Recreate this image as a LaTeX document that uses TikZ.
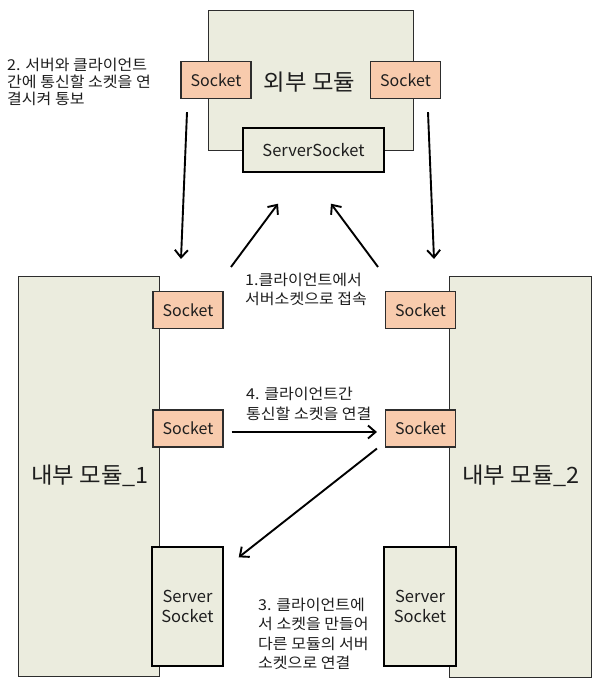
\documentclass[tikz,border=0pt]{standalone}
\usepackage{fontspec}
\setmainfont{Noto Sans CJK KR}
\newfontfamily\notefont[FakeStretch=1.07]{Noto Sans CJK KR}
\newfontfamily\titlefont[FakeStretch=1.04]{Noto Sans CJK KR}
\usetikzlibrary{arrows.meta,calc}
\definecolor{modfill}{RGB}{235,236,222}
\definecolor{sockfill}{RGB}{248,203,173}
\definecolor{edge}{RGB}{45,45,45}
\definecolor{txt}{RGB}{30,30,30}
\tikzset{
  module/.style={draw=edge,line width=0.9pt,fill=modfill,inner sep=0pt},
  title/.style={inner sep=0pt,text=txt,font=\titlefont\fontsize{22.5}{26}\selectfont},
  sockbox/.style={draw=edge,line width=1.1pt,fill=sockfill,inner sep=0pt,minimum width=70pt,minimum height=37pt,text=txt,font=\fontsize{16}{19}\selectfont},
  srvbox/.style={draw=black,line width=1.4pt,fill=modfill,inner sep=0pt,text=txt,align=center,font=\fontsize{16.5}{20}\selectfont},
  note/.style={inner sep=0pt,anchor=north west,align=left,text=txt},
  arr/.style={line width=1.9pt,-{Straight Barb[length=7.5pt,width=13pt,line width=1.9pt]}}
}
\begin{document}
\begin{tikzpicture}[x=1pt,y=-1pt]
\useasboundingbox (0,0) rectangle (594,678);
\fill[white] (0,0) rectangle (594,678);

% outer module with its sockets
\node[module,minimum width=205pt,minimum height=140pt] (outer) at (310.5,80) {};
\node[title] (outerlbl) at (309.5,82) {외부 모듈};
\node[sockbox] (sA) at (216,80) {Socket};
\node[sockbox] (sB) at (405.5,80) {Socket};
\node[srvbox,minimum width=141pt,minimum height=44pt] (ss) at (313.5,150) {ServerSocket};

% inner modules
\node[module,minimum width=141pt,minimum height=400pt] (in1) at (88.5,476) {};
\node[module,minimum width=142pt,minimum height=401pt] (in2) at (520,476.5) {};
\node[title] (in1lbl) at (90,476) {내부 모듈\_1};
\node[title] (in2lbl) at (521,476) {내부 모듈\_2};

% client sockets
\node[sockbox] (sC) at (188,310) {Socket};
\node[sockbox] (sE) at (188,428.5) {Socket};
\node[sockbox] (sD) at (420.5,310) {Socket};
\node[sockbox] (sF) at (420.5,428.5) {Socket};

% server sockets of the inner modules
\node[srvbox,minimum width=71pt,minimum height=119pt] (ss1) at (187.5,606.5) {Server\\Socket};
\node[srvbox,minimum width=72pt,minimum height=119pt] (ss2) at (420,606.5) {Server\\Socket};

% connectors
\draw[arr] ($(sA.south)+(-29,13)$) -- ($(sC.north)+(-7,-32)$);
\draw[arr] ($(sB.south)+(22.5,13)$) -- ($(sD.north)+(13.5,-32)$);
\draw[arr] ($(sC.north)+(43,-24)$) -- ($(ss.south)+(-35.5,31)$);
\draw[arr] ($(sD.north)+(-42.5,-24)$) -- ($(ss.south)+(17.5,31)$);
\draw[arr] ($(sE.east)+(8,3.5)$) -- ($(sF.west)+(-8,3.5)$);
\draw[arr] ($(sF.south west)+(-8,1)$) -- ($(ss1.north east)+(15,11)$);

% step notes
\node[note,font=\notefont\fontsize{15}{17}\selectfont] (n2) at (7,58) {2. 서버와 클라이언트\\간에 통신할 소켓을 연\\결시켜 통보};
\node[note,font=\notefont\fontsize{15}{19}\selectfont] (n1) at (245,273) {1.클라이언트에서\\서버소켓으로 접속};
\node[note,font=\notefont\fontsize{15}{20}\selectfont] (n4) at (246,387) {4. 클라이언트간\\통신할 소켓을 연결};
\node[note,font=\notefont\fontsize{15}{19.3}\selectfont] (n3) at (258,598) {3. 클라이언트에\\서 소켓을 만들어\\다른 모듈의 서버\\소켓으로 연결};
\end{tikzpicture}
\end{document}
